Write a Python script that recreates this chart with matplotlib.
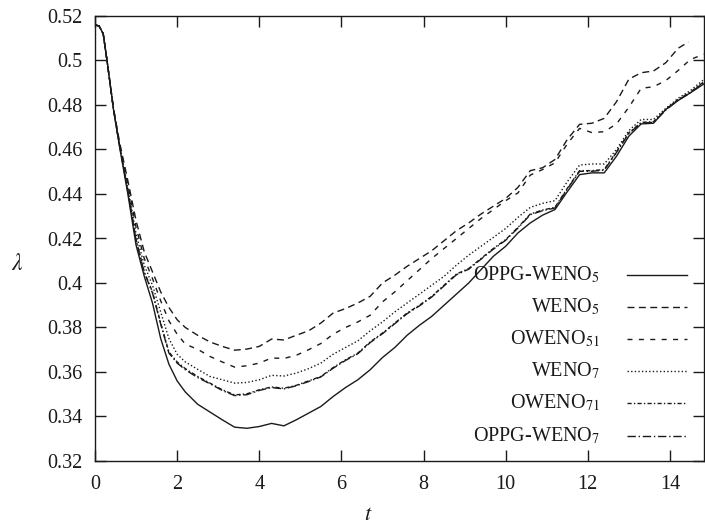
import matplotlib
matplotlib.use("Agg")
import matplotlib.pyplot as plt

plt.rcParams['font.family'] = ['Liberation Serif', 'DejaVu Serif']
plt.rcParams['mathtext.fontset'] = 'stix'

# ---------------- data ----------------
t = [0, 0.1, 0.2, 0.3, 0.45, 0.6, 0.8, 1.0, 1.2, 1.4, 1.6, 1.8, 2.0, 2.2, 2.5, 2.8,
     3.1, 3.4, 3.7, 4.0, 4.3, 4.6, 4.9, 5.2, 5.5, 5.8, 6.1, 6.4, 6.7, 7.0, 7.3, 7.6,
     7.9, 8.2, 8.5, 8.8, 9.1, 9.4, 9.7, 10.0, 10.3, 10.6, 10.9, 11.2, 11.5, 11.8,
     12.1, 12.4, 12.7, 13.0, 13.3, 13.6, 13.9, 14.2, 14.5, 14.83]

oppg_weno5 = [0.516, 0.5155, 0.512, 0.499, 0.478, 0.461, 0.440, 0.417, 0.403, 0.391,
              0.375, 0.3635, 0.356, 0.351, 0.3455, 0.342, 0.3385, 0.3352, 0.3347,
              0.3355, 0.3369, 0.3358, 0.3385, 0.3415, 0.3445, 0.349, 0.353, 0.3565,
              0.361, 0.3665, 0.371, 0.3765, 0.381, 0.385, 0.390, 0.395, 0.400,
              0.406, 0.412, 0.4165, 0.4225, 0.427, 0.4305, 0.433, 0.441, 0.4487,
              0.4495, 0.4495, 0.457, 0.466, 0.4715, 0.4718, 0.478, 0.482, 0.4855,
              0.4895]

weno5_t = t[:-2] + [14.45]
weno5 = [0.516, 0.5155, 0.512, 0.499, 0.4785, 0.463, 0.446, 0.428, 0.414, 0.405,
         0.396, 0.389, 0.3835, 0.3800, 0.3765, 0.3735, 0.3715, 0.3698, 0.3703,
         0.3715, 0.3748, 0.3744, 0.3765, 0.3785, 0.382, 0.3865, 0.3885, 0.391,
         0.394, 0.400, 0.4035, 0.4075, 0.411, 0.4145, 0.419, 0.4235, 0.427, 0.431,
         0.4345, 0.438, 0.443, 0.4505, 0.4518, 0.4555, 0.4645, 0.4713, 0.4718,
         0.474, 0.4815, 0.4916, 0.4945, 0.4953, 0.499, 0.5055, 0.5083]

oweno51 = [0.516, 0.5155, 0.512, 0.499, 0.4783, 0.4625, 0.4445, 0.425, 0.411, 0.402,
           0.392, 0.383, 0.377, 0.3725, 0.3702, 0.367, 0.3645, 0.3622, 0.3628,
           0.364, 0.3663, 0.3661, 0.3675, 0.370, 0.3728, 0.377, 0.380, 0.3825,
           0.3855, 0.3915, 0.396, 0.401, 0.406, 0.411, 0.4155, 0.420, 0.4245,
           0.429, 0.433, 0.437, 0.4405, 0.4485, 0.451, 0.454, 0.4625, 0.4695,
           0.4676, 0.468, 0.4715, 0.479, 0.4875, 0.4882, 0.491, 0.4955, 0.5005,
           0.5028]

weno7 = [0.516, 0.5155, 0.512, 0.499, 0.4782, 0.462, 0.443, 0.422, 0.408, 0.399,
         0.387, 0.375, 0.368, 0.3645, 0.3612, 0.358, 0.3565, 0.355, 0.3553, 0.3565,
         0.3585, 0.3582, 0.3595, 0.3615, 0.364, 0.368, 0.371, 0.374, 0.3785, 0.3825,
         0.387, 0.391, 0.395, 0.399, 0.403, 0.408, 0.4125, 0.4165, 0.4205, 0.4245,
         0.4295, 0.434, 0.4358, 0.437, 0.4455, 0.453, 0.4535, 0.4535, 0.460, 0.4685,
         0.4735, 0.4735, 0.4785, 0.483, 0.4865, 0.4915]

oweno71 = [0.516, 0.5155, 0.512, 0.499, 0.478, 0.4615, 0.4415, 0.4195, 0.405, 0.396,
           0.382, 0.369, 0.3645, 0.3615, 0.358, 0.355, 0.352, 0.3497, 0.3502, 0.352,
           0.3533, 0.3527, 0.354, 0.356, 0.358, 0.362, 0.3655, 0.3685, 0.3735, 0.3775,
           0.382, 0.3865, 0.390, 0.394, 0.399, 0.404, 0.4065, 0.411, 0.4155, 0.4195,
           0.425, 0.431, 0.4328, 0.434, 0.4425, 0.4505, 0.4505, 0.451, 0.459, 0.4675,
           0.4722, 0.4725, 0.478, 0.4825, 0.4858, 0.4905]

oppg_weno7 = [0.516, 0.5155, 0.512, 0.499, 0.478, 0.4615, 0.4413, 0.4192, 0.4047, 0.3955,
              0.3815, 0.3685, 0.364, 0.361, 0.3575, 0.3547, 0.3517, 0.3494, 0.3498,
              0.3517, 0.353, 0.3524, 0.3538, 0.3557, 0.3578, 0.3617, 0.3652, 0.3682,
              0.3732, 0.3772, 0.3817, 0.3862, 0.3897, 0.3937, 0.3987, 0.4037, 0.4062,
              0.4107, 0.4152, 0.4192, 0.4247, 0.4307, 0.4325, 0.4337, 0.4422, 0.4502,
              0.4502, 0.4507, 0.4587, 0.4672, 0.4719, 0.4722, 0.4777, 0.4822, 0.4855,
              0.4902]

labels = [r'OPPG-WENO$_5$', r'WENO$_5$', r'OWENO$_{51}$', r'WENO$_7$',
          r'OWENO$_{71}$', r'OPPG-WENO$_7$']
xticks = [0, 2, 4, 6, 8, 10, 12, 14]
yticks = [0.32, 0.34, 0.36, 0.38, 0.40, 0.42, 0.44, 0.46, 0.48, 0.50, 0.52]
yticklabels = ['0.32', '0.34', '0.36', '0.38', '0.4', '0.42', '0.44', '0.46',
               '0.48', '0.5', '0.52']

# ---------------- figure ----------------
W, H = 705, 524
fig = plt.figure(figsize=(W / 100, H / 100), dpi=100)
L, R, T, B = 95, 704, 16, 461
ax = fig.add_axes([L / W, 1 - B / H, (R - L) / W, (B - T) / H])

col = '#1a1a1a'
lw = 1.0
styles = [
    dict(linestyle='-'),
    dict(linestyle=(0, (5, 3.2))),
    dict(linestyle=(0, (3.6, 4.6))),
    dict(linestyle=(0, (1.0, 1.6))),
    dict(linestyle=(0, (3, 1.6, 1, 1.6))),
    dict(linestyle=(0, (6, 2, 1, 2))),
]
series = [(t, oppg_weno5), (weno5_t, weno5), (t, oweno51), (t, weno7),
          (t, oweno71), (t, oppg_weno7)]

for (xs, ys), st in zip(series, styles):
    ax.plot(xs, ys, color=col, lw=lw, **st)

ax.set_xlim(0, 14.83)
ax.set_ylim(0.32, 0.52)
ax.set_xticks(xticks)
ax.set_yticks(yticks)
ax.set_yticklabels(yticklabels)
ax.tick_params(direction='in', length=8, width=1, top=True, right=True,
               labelsize=14.5, colors=col, pad=9)
ax.tick_params(axis='x', pad=10)
for s in ax.spines.values():
    s.set_linewidth(1.0)
    s.set_color(col)

ax.set_xlabel(r'$t$', fontsize=16, color=col)
ax.xaxis.set_label_coords((368 - L) / (R - L), -(515 - B) / (B - T))
ax.set_ylabel(r'$\lambda$', fontsize=17, color=col, rotation=0)
ax.yaxis.set_label_coords((17 - L) / (R - L), (B - 265) / (B - T))
ax.xaxis.label.set_va('center')
ax.yaxis.label.set_va('center')
ax.yaxis.label.set_ha('center')

# legend drawn in the gnuplot manner: right-aligned labels, samples to the right
row0 = (B - 275) / (B - T)
dy = 32.1 / (B - T)
x_text = (600 - L) / (R - L)
x0, x1 = (627 - L) / (R - L), (687 - L) / (R - L)
for i, (lab, st) in enumerate(zip(labels, styles)):
    yy = row0 - i * dy
    ax.plot([x0, x1], [yy, yy], transform=ax.transAxes, color=col, lw=lw, **st)
    ax.text(x_text, yy, lab, transform=ax.transAxes, ha='right', va='center',
            fontsize=14.5, color=col)

fig.savefig('out.png', dpi=100)
